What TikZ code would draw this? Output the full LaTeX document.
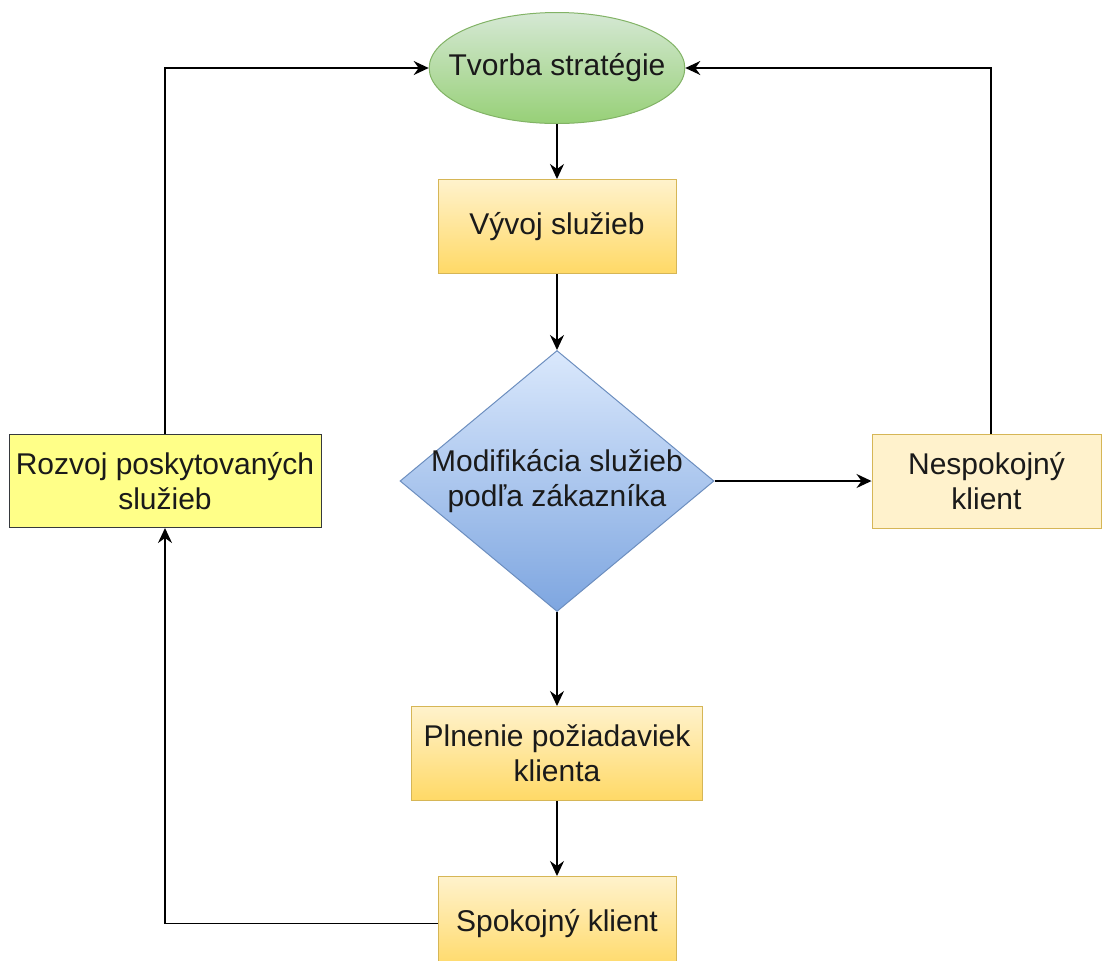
\documentclass[tikz,border=0pt]{standalone}
\usepackage{fontspec}
\setmainfont{Liberation Sans}
\usepackage{tikz}
\usetikzlibrary{arrows.meta,positioning,shapes.geometric}

\definecolor{greenTop}{HTML}{D5E8D4}
\definecolor{greenBot}{HTML}{97D077}
\definecolor{greenLine}{HTML}{82B366}
\definecolor{yelTop}{HTML}{FFF2CC}
\definecolor{yelBot}{HTML}{FFD966}
\definecolor{yelLine}{HTML}{D6B656}
\definecolor{blueTop}{HTML}{DAE8FC}
\definecolor{blueBot}{HTML}{7EA6E0}
\definecolor{blueLine}{HTML}{6C8EBF}
\definecolor{noteFill}{HTML}{FFFF88}
\definecolor{noteLine}{HTML}{36393D}
\definecolor{ink}{HTML}{1A1A1A}

\begin{document}
\begin{tikzpicture}[x=0.5pt, y=-0.5pt,
  every node/.style={font=\fontsize{15}{17.5}\selectfont, text=ink, align=center},
  start/.style={ellipse, draw=greenLine, line width=0.5pt, top color=greenTop,
    bottom color=greenBot, minimum width=127.5pt, minimum height=55.5pt,
    inner xsep=-9pt, inner ysep=0pt},
  proc/.style={rectangle, draw=yelLine, line width=0.5pt, top color=yelTop,
    bottom color=yelBot, minimum width=119pt, minimum height=47pt, inner sep=2pt},
  plain/.style={rectangle, draw=yelLine, line width=0.5pt, fill=yelTop,
    minimum width=114.5pt, minimum height=47pt, inner sep=2pt},
  note/.style={rectangle, draw=noteLine, line width=0.5pt, fill=noteFill,
    minimum width=156pt, minimum height=46.5pt, inner sep=2pt},
  decide/.style={diamond, aspect=1.2, draw=blueLine, line width=0.5pt, top color=blueTop,
    bottom color=blueBot, minimum width=157pt, minimum height=130.5pt,
    inner xsep=-2pt, inner ysep=-2pt},
  flow/.style={-{Stealth[length=7.5pt, width=7pt, inset=2.5pt]}, line width=0.8pt, black},
]
  \useasboundingbox (0,0) rectangle (1102,960);

  \node[start] (strat) at (557,68) {Tvorba stratégie};
  \node[proc, below=27.5pt of strat] (vyvoj) {Vývoj služieb};
  \node[decide, below=38pt of vyvoj] (modif) {Modifikácia služieb\\ podľa zákazníka};
  \node[proc, below=47pt of modif, minimum width=145.5pt] (plnenie) {Plnenie požiadaviek\\ klienta};
  \node[proc, below=37.5pt of plnenie] (spok) {Spokojný klient};

  \node[plain, right=78.5pt of modif] (nesp) {Nespokojný\\ klient};
  \node[note, left=39pt of modif] (rozvoj) {Rozvoj poskytovaných\\ služieb};

  \draw[flow] (strat) -- (vyvoj);
  \draw[flow] (vyvoj) -- (modif);
  \draw[flow] (modif) -- (plnenie);
  \draw[flow] (plnenie) -- (spok);
  \draw[flow] (modif.east) -- (nesp.west);

  % loops back to the strategy
  \draw[flow] ([xshift=2.25pt]nesp.north) |- (strat.east);
  \draw[flow] (spok.west) -| (rozvoj.south);
  \draw[flow] (rozvoj.north) |- (strat.west);
\end{tikzpicture}
\end{document}
